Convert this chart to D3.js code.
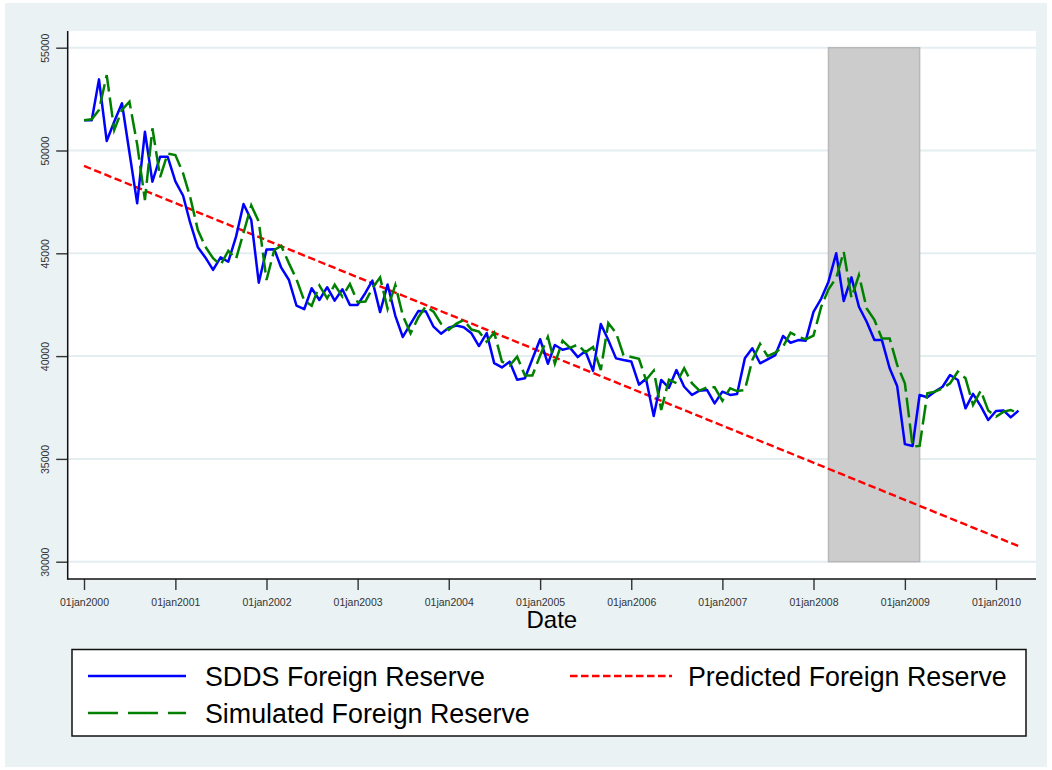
<!DOCTYPE html>
<html><head><meta charset="utf-8">
<script src="https://cdn.jsdelivr.net/npm/d3@7"></script>
<style>body{margin:0;background:#fff}svg{display:block}</style>
</head><body><svg id="c" width="1052" height="770"></svg>
<script>
// ---- data ----
const monthStart = "2000-01-01";
const monthEnd = "2010-05-01"; // exclusive: 124 monthly observations
const sdds = [
51470,51470,53460,50460,51400,52300,49900,47430,50910,48480,49700,49700,
48500,47800,46500,45290,44800,44190,44800,44590,45810,47400,46620,43570,
45180,45200,44300,43700,42460,42280,43300,42730,43350,42700,43250,42490,
42490,43070,43670,42140,43480,41960,40930,41570,42190,42180,41430,41090,
41380,41490,41400,41110,40490,41120,39660,39450,39730,38850,38920,39860,
40820,39630,40540,40310,40400,39950,40250,39280,41560,40780,39890,39810,
39740,38610,38900,37090,38840,38460,39320,38510,38110,38320,38350,37700,
38270,38110,38160,39890,40380,39650,39840,40050,40980,40650,40780,40750,
42150,42800,43620,45000,42680,43830,42400,41670,40780,40780,39410,38550,
35720,35630,38110,38000,38270,38510,39080,38840,37460,38160,37570,36890,
37330,37350,37020,37350];
const simulated = [
51470,51520,51970,53670,51000,51970,52370,50300,47590,51080,48700,49850,
49780,48890,47750,46130,45320,44760,44430,45120,44730,46000,47330,46540,
43700,45160,45360,44510,43740,42700,42450,43430,42810,43470,42890,43510,
42620,42650,43300,43830,42300,43460,41970,41110,41880,42420,42160,41580,
41280,41580,41750,41290,41190,40700,41150,39730,39540,39970,39060,39060,
40030,40930,39630,40750,40400,40560,40180,40440,39320,41610,41130,40050,
39960,39870,38840,39300,37380,38850,38680,39410,38680,38320,38480,38480,
37830,38430,38300,38350,39810,40590,40000,40170,40460,41140,40940,40810,
41000,42400,43250,43800,45080,42840,43940,42320,41760,40860,40860,39570,
38680,35600,35630,38190,38270,38430,38680,39240,38920,37620,38320,37350,
37050,37300,37380,37220];
const predictedDates = ["2000-01-01","2010-04-01"];
const predicted = [49250,30760];
const shadeDates = ["2008-03-01","2009-03-01"];
const yTicks = [30000,35000,40000,45000,50000,55000];
const xTickDates = ["2000-01-01","2001-01-01","2002-01-01","2003-01-01","2004-01-01","2005-01-01",
                    "2006-01-01","2007-01-01","2008-01-01","2009-01-01","2010-01-01"];
const xTickLabels = ["01jan2000","01jan2001","01jan2002","01jan2003","01jan2004","01jan2005",
                     "01jan2006","01jan2007","01jan2008","01jan2009","01jan2010"];
const legendLabels = ["SDDS Foreign Reserve","Predicted Foreign Reserve","Simulated Foreign Reserve"];

// ---- layout ----
const svg = d3.select("#c");
const FONT = "'Liberation Sans', Arial, Helvetica, sans-serif";
const plot = {left: 67.7, right: 1036, top: 31, bottom: 579};
const bg = "#eaf2f3";
const parse = d3.utcParse("%Y-%m-%d");
const months = d3.utcMonth.range(parse(monthStart), parse(monthEnd));

const x = d3.scaleUtc().domain([parse(xTickDates[0]), parse(xTickDates[xTickDates.length-1])]).range([84, 996]);
const y = d3.scaleLinear().domain([30000, 55000]).range([561.7, 47.7]);

svg.append("rect").attr("x",5).attr("y",3).attr("width",1042).attr("height",764).attr("fill",bg);
svg.append("rect").attr("x",plot.left).attr("y",plot.top).attr("width",plot.right-plot.left)
   .attr("height",plot.bottom-plot.top).attr("fill","#fff");

// grid
svg.append("g").selectAll("line").data(yTicks).join("line")
  .attr("x1",plot.left).attr("x2",plot.right).attr("y1",d=>y(d)).attr("y2",d=>y(d))
  .attr("stroke","#e4edf0").attr("stroke-width",2);

// shaded period
svg.append("rect")
  .attr("x",x(parse(shadeDates[0]))).attr("y",y(55000))
  .attr("width",x(parse(shadeDates[1]))-x(parse(shadeDates[0])))
  .attr("height",y(30000)-y(55000))
  .attr("fill","#cccccc").attr("stroke","#b8b8b8").attr("stroke-width",1.5);

// lines
const lineGen = d3.line().x(d=>x(d[0])).y(d=>y(d[1]));
svg.append("path").datum(predictedDates.map((d,i)=>[parse(d),predicted[i]]))
  .attr("d",lineGen).attr("fill","none").attr("stroke","#ff0000").attr("stroke-width",2.4)
  .attr("stroke-dasharray","7.5,3.5");
svg.append("path").datum(months.map((d,i)=>[d,sdds[i]]))
  .attr("d",lineGen).attr("fill","none").attr("stroke","#0000ff").attr("stroke-width",2.5)
  .attr("stroke-linejoin","round");
svg.append("path").datum(months.map((d,i)=>[d,simulated[i]]))
  .attr("d",lineGen).attr("fill","none").attr("stroke","#008000").attr("stroke-width",2.5)
  .attr("stroke-dasharray","20,6");

// axes
const yAxis = svg.append("g").attr("transform",`translate(${plot.left},0)`)
  .call(d3.axisLeft(y).tickValues(yTicks).tickSize(11.5).tickSizeOuter(0).tickFormat(d3.format("d")));
yAxis.select(".domain").remove();
yAxis.selectAll(".tick line").attr("stroke","#333").attr("stroke-width",1.4);
yAxis.selectAll(".tick text").attr("transform","rotate(-90)").attr("x",0).attr("y",-18.5)
  .attr("dy",0).attr("text-anchor","middle").attr("font-family",FONT).attr("font-size",10.5).attr("fill","#333");

const xAxis = svg.append("g").attr("transform",`translate(0,${plot.bottom})`)
  .call(d3.axisBottom(x).tickValues(xTickDates.map(parse)).tickSize(11).tickSizeOuter(0)
        .tickFormat((d,i)=>xTickLabels[i]));
xAxis.select(".domain").remove();
xAxis.selectAll(".tick line").attr("stroke","#333").attr("stroke-width",1.4);
xAxis.selectAll(".tick text").attr("y",27).attr("dy",0).attr("font-family",FONT)
  .attr("font-size",10.5).attr("fill","#333");

svg.append("line").attr("x1",plot.left).attr("x2",plot.left).attr("y1",plot.top).attr("y2",plot.bottom+0.7)
  .attr("stroke","#111").attr("stroke-width",1.5);
svg.append("line").attr("x1",plot.left).attr("x2",plot.right).attr("y1",plot.bottom).attr("y2",plot.bottom)
  .attr("stroke","#111").attr("stroke-width",1.5);

svg.append("text").attr("x",(plot.left+plot.right)/2).attr("y",628).attr("text-anchor","middle")
  .attr("font-family",FONT).attr("font-size",24).attr("fill","#000").text("Date");

// legend
svg.append("rect").attr("x",72).attr("y",649.5).attr("width",954).attr("height",86.5)
  .attr("fill","#fff").attr("stroke","#111").attr("stroke-width",1.5);
const leg = [
  {label: legendLabels[0], color:"#0000ff", dash:null, x1:88, x2:186, tx:205, ty:676},
  {label: legendLabels[1], color:"#ff0000", dash:"7.5,3.5", x1:570, x2:672, tx:688, ty:676},
  {label: legendLabels[2], color:"#008000", dash:"30,10", x1:88, x2:186, tx:205, ty:713}
];
const lg = svg.append("g").selectAll("g").data(leg).join("g");
lg.append("line").attr("x1",d=>d.x1).attr("x2",d=>d.x2).attr("y1",d=>d.ty).attr("y2",d=>d.ty)
  .attr("stroke",d=>d.color).attr("stroke-width",2.5).attr("stroke-dasharray",d=>d.dash);
lg.append("text").attr("x",d=>d.tx).attr("y",d=>d.ty+9.5).attr("font-family",FONT)
  .attr("font-size",26.8).attr("fill","#000").text(d=>d.label);
</script></body></html>
